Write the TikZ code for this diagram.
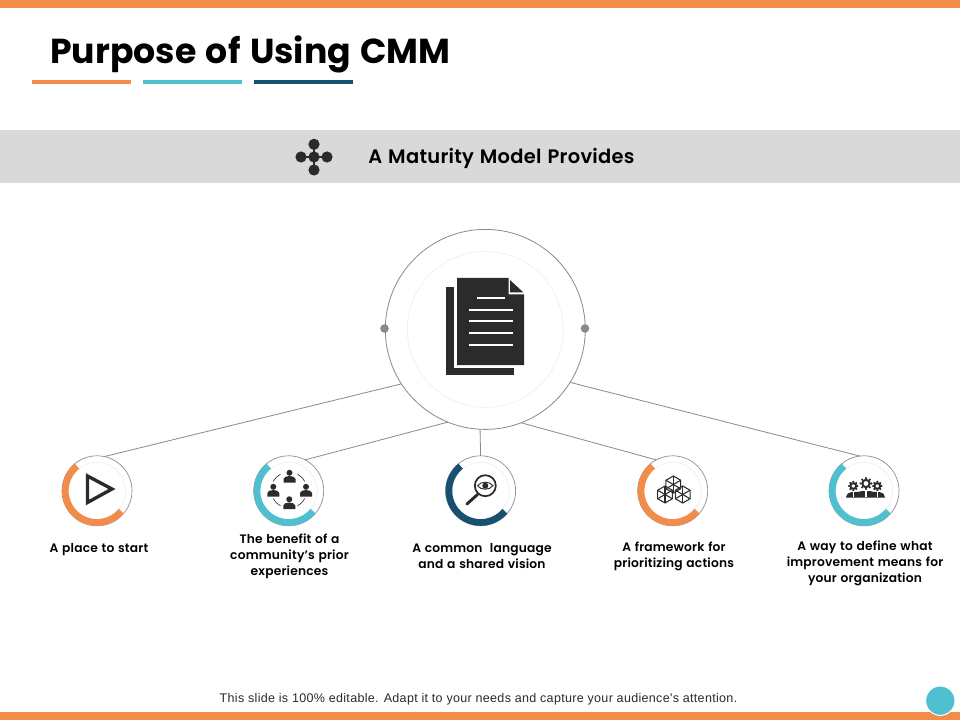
\documentclass[tikz,border=0pt]{standalone}
\usepackage{fontspec}
\setmainfont{Poppins}
\newfontfamily\titlefont[WordSpace=1.3]{Poppins}
\newfontfamily\labfont[LetterSpace=1.5,WordSpace=1.2]{Poppins SemiBold}
\newfontfamily\footfont[LetterSpace=2.5]{Liberation Sans}
\definecolor{orng}{HTML}{F28C48}
\definecolor{teal1}{HTML}{4FC0D0}
\definecolor{navy1}{HTML}{18506F}
\definecolor{ink}{HTML}{2B2B2B}
\definecolor{band}{HTML}{D9D9D9}
\definecolor{edge}{HTML}{8A8A8A}
\definecolor{pale}{HTML}{F1F1F1}
\tikzset{
  bigc/.style={circle,draw=edge,line width=.6pt,minimum size=150pt,inner sep=0pt,outer sep=0pt},
  smallc/.style={circle,draw=edge,line width=.5pt,minimum size=52.5pt,inner sep=0pt,outer sep=0pt},
  link/.style={draw=edge,line width=.6pt},
  ringarc/.style={line width=5pt},
  palec/.style={draw=pale,line width=.6pt},
  lab/.style={align=center,font=\fontsize{9.2}{12}\selectfont\labfont,text=black,inner sep=0pt},
  icon/.style={draw=ink,line width=.8pt},
  underl/.style={line width=2.6pt}
}
\newcommand{\persona}[2]{%
  \fill[ink] (#1,#2+4.2) circle (3);
  \fill[ink] (#1-6,#2-5.5) -- (#1-6,#2-2) .. controls (#1-5,#2+0.3) and (#1-3,#2+0.8) .. (#1-1,#2+0.8) -- (#1+1,#2+0.8) .. controls (#1+3,#2+0.8) and (#1+5,#2+0.3) .. (#1+6,#2-2) -- (#1+6,#2-5.5) -- cycle;
}
\newcommand{\hexa}[2]{%
  \draw[icon] (#1,#2)++(90:8.5) -- ++(-30:8.5) -- ++(-90:8.5) -- ++(-150:8.5) -- ++(150:8.5) -- ++(90:8.5) -- cycle;
  \foreach \a in {30,90,...,330} \draw[icon] (#1,#2) -- ++(\a:8.5);
}
\newcommand{\gearx}[3]{%
  \foreach \a in {0,45,...,315} \fill[ink] (#1,#2)++(\a:#3) circle (1.2);
  \draw[ink,line width=1.5pt] (#1,#2) circle (#3*.68);
}
\begin{document}
\begin{tikzpicture}[x=.75pt,y=.75pt]
\useasboundingbox (0,-720) rectangle (960,0);
\fill[white] (0,-720) rectangle (960,0);
\fill[orng] (0,0) rectangle (960,-8);
\fill[orng] (0,-712) rectangle (960,-720);
\node[anchor=base west,inner sep=0pt,font=\fontsize{26}{30}\selectfont\titlefont\bfseries] (title) at (50,-64) {Purpose of Using CMM};
\draw[orng,underl] (32,-82) -- (131,-82);
\draw[teal1,underl] (143,-82) -- (242,-82);
\draw[navy1,underl] (254,-82) -- (353,-82);
\fill[band] (0,-130) rectangle (960,-183);
\node[font=\fontsize{14.6}{18}\selectfont\labfont,inner sep=0pt] (head) at (501.5,-158.5) {A Maturity Model Provides};
% flower icon
\draw[ink,line width=1pt] (314,-144) -- (314,-170) (301,-157) -- (327,-157);
\foreach \p in {(314,-144.3),(314,-170),(301,-157),(327,-157),(314,-157)} \fill[ink] \p circle (5.6);
% big circle
\node[bigc] (big) at (485.3,-329.4) {};
\draw[palec] (big.center) circle (78);
\fill[edge] (384.5,-328.5) circle (4.3);
\fill[edge] (585,-328.5) circle (4.3);
% document icon
\fill[ink] (446,-287) rectangle (514,-375);
\fill[white] (454,-275) rectangle (527,-368);
\fill[ink] (457,-278) -- (508.5,-278) -- (508.5,-294.5) -- (524,-294.5) -- (524,-365) -- (457,-365) -- cycle;
\fill[ink] (510,-280) -- (523.5,-292.5) -- (510,-292.5) -- cycle;
\foreach \y/\a/\b in {298/477/505,309.7/468.5/513,321.3/468.5/513,333.3/468.5/513,345.3/468.5/513}
  \draw[white,line width=1.5pt] (\a,-\y) -- (\b,-\y);
% small circles
\node[smallc] (s1) at (97,-490.8) {};
\node[smallc] (s2) at (288.7,-490.8) {};
\node[smallc] (s3) at (480.6,-490.8) {};
\node[smallc] (s4) at (672.7,-490.8) {};
\node[smallc] (s5) at (864,-490.8) {};
\foreach \n in {s1,s2,s3,s4,s5} \draw[palec] (\n.center) circle (28.5);
% arcs
\foreach \n/\c in {s1/orng,s2/teal1,s3/navy1,s4/orng,s5/teal1}
  \draw[\c,ringarc] (\n.center) ++(129:31.7) arc (129:320:31.7);
% connectors
\draw[link] (big.213) -- (s1.78);
\draw[link] (big.248.6) -- (s2.62);
\draw[link] (big.267.3) -- (s3.90);
\draw[link] (big.-69.7) -- (s4.118);
\draw[link] (big.-32.4) -- (s5.97);
% play
\draw[ink,line width=2.5pt,miter limit=10] (87.5,-476) -- (112,-489) -- (87.5,-502.5) -- cycle;
% people
\persona{289.5}{-477}
\persona{273.3}{-491}
\persona{306}{-491}
\persona{289.3}{-503.5}
\foreach \s/\e in {28/62,118/152,208/242,298/332}
  \draw[ink,line width=.45pt] (289,-490)++(\s:18) arc (\s:\e:18);
% magnifier
\draw[ink,line width=1.3pt] (485.3,-485.7) circle (10.5);
\draw[ink,line width=2.2pt,line cap=round] (467,-504) -- (477.5,-494.5);
\draw[ink,line width=.7pt] (477.5,-485.7) .. controls (481,-481) and (489.5,-481) .. (493,-485.7) .. controls (489.5,-490.4) and (481,-490.4) .. (477.5,-485.7) -- cycle;
\fill[ink] (485.3,-485.7) circle (3);
% cubes
\hexa{673.3}{-484.5}
\hexa{665}{-494.5}
\hexa{682.7}{-494.5}
% gears people
\gearx{853.3}{-486}{4.2}
\gearx{866}{-483.5}{5.4}
\gearx{877.3}{-486}{4.2}
\fill[ink] (846,-497.5) .. controls (847,-493) and (849,-492.5) .. (852,-492) -- (855,-492) .. controls (858,-492.5) and (859,-491.5) .. (862,-491) -- (870,-491) .. controls (873,-491.5) and (874,-492.5) .. (876,-492) -- (879,-492) .. controls (882,-492.5) and (884,-493) .. (885,-497.5) -- cycle;
\foreach \x in {853.3,866,877.3} \fill[white] (\x-.6,-497) rectangle (\x+.6,-491);
% labels
\node[lab] (l1) at (99,-549.5) {A place to start};
\node[lab] (l2) at (289.5,-556) {The benefit of a\\community’s prior\\experiences};
\node[lab] (l3) at (482,-556) {A common \ language\\and a shared vision};
\node[lab] (l4) at (674,-556) {A framework for\\prioritizing actions};
\node[lab] (l5) at (865,-563.5) {A way to define what\\improvement means for\\your organization};
% footer
\node[font=\fontsize{9.4}{11}\selectfont\footfont,inner sep=0pt,text=ink] (foot) at (478.5,-699.5) {This slide is 100\% editable. Adapt it to your needs and capture your audience's attention.};
\draw[white,fill=teal1,line width=.75pt] (940.3,-700.7) circle (14.7);
\end{tikzpicture}
\end{document}
